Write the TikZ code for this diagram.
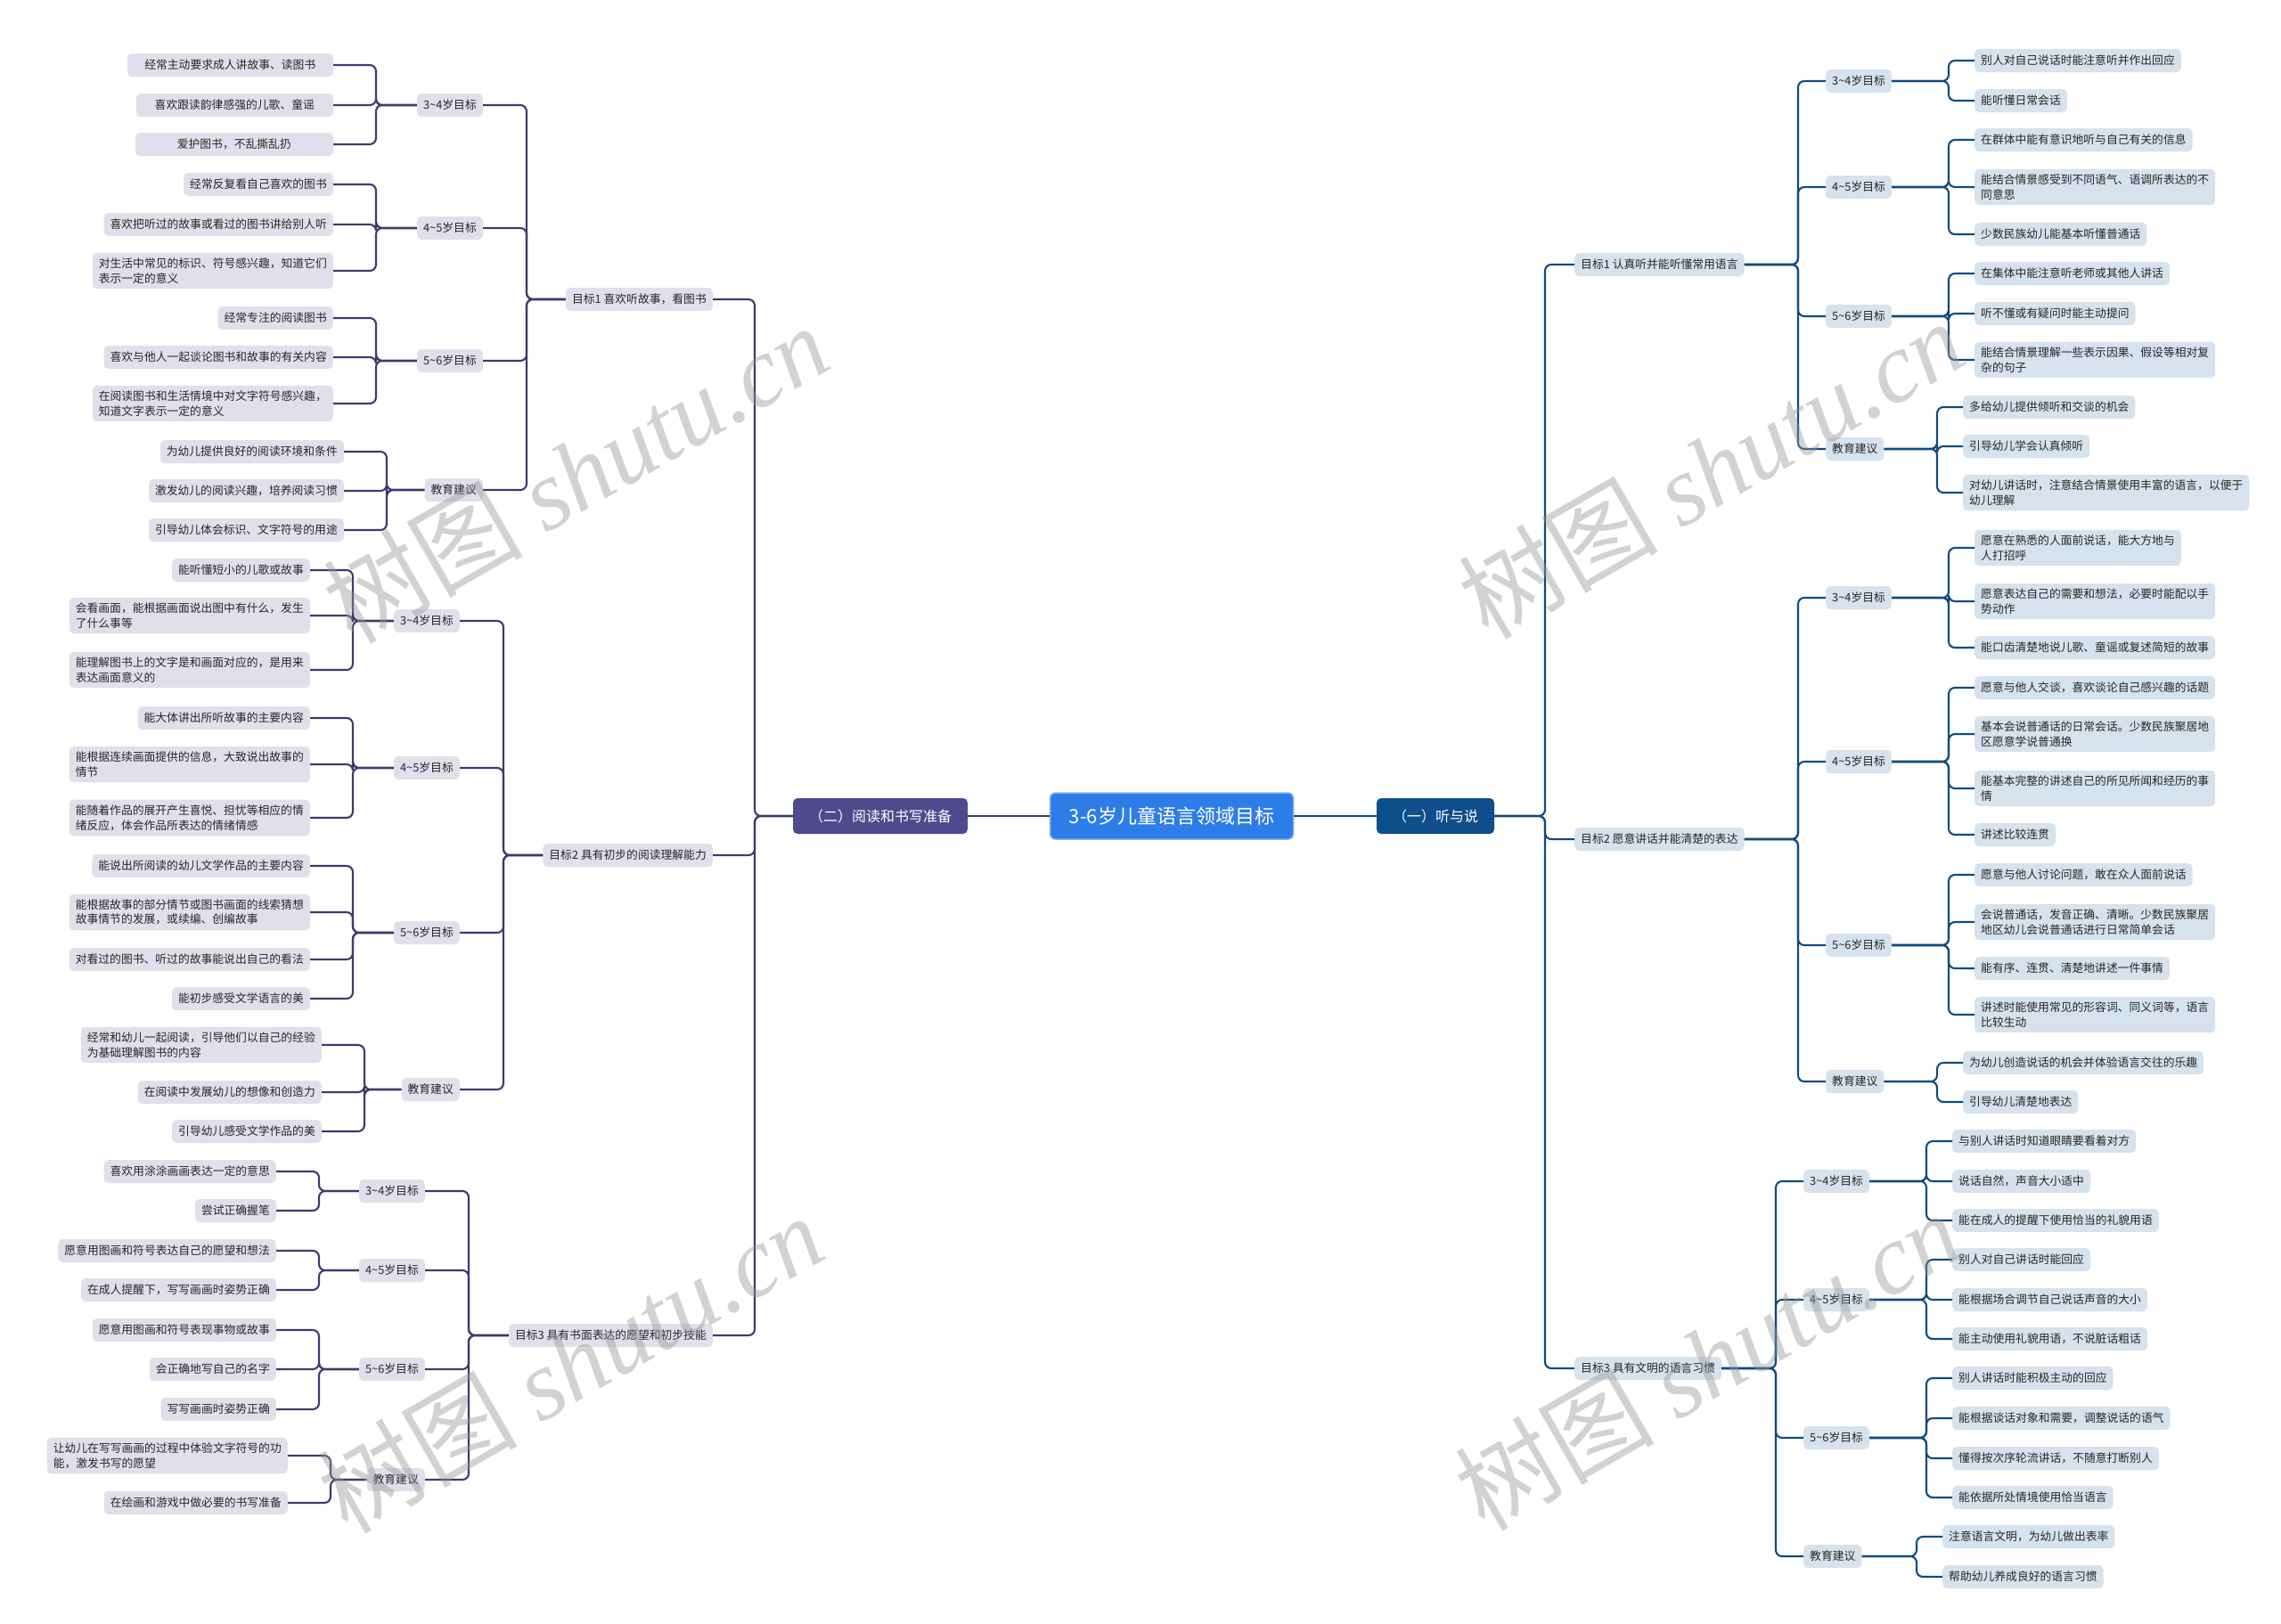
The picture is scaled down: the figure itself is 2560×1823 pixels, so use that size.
\documentclass[tikz,border=0pt]{standalone}
\usepackage{fontspec}
\setmainfont{Noto Sans CJK SC}
\newfontfamily\wmserif{Liberation Serif}
\usepackage{xcolor}
\usepackage{tikz}
\definecolor{rootblue}{RGB}{45,125,232}
\definecolor{readpurple}{RGB}{79,74,142}
\definecolor{readline}{RGB}{62,58,112}
\definecolor{readfill}{RGB}{224,224,237}
\definecolor{talkblue}{RGB}{14,78,138}
\definecolor{talkline}{RGB}{16,74,128}
\definecolor{talkfill}{RGB}{214,226,237}
\definecolor{inktext}{RGB}{38,38,38}
\definecolor{wmgray}{RGB}{150,150,150}
\newcommand{\agetil}{\textasciitilde}

\begin{document}
\begin{tikzpicture}[x=1pt, y=-1pt,
          box/.style={rounded corners=5pt, inner xsep=7pt, inner ysep=6pt,
                      minimum height=26pt, text=inktext,
                      font=\fontsize{12.8}{16.5}\selectfont},
          rootnode/.style={box, fill=rootblue, draw=rootblue!60!white, line width=1.5pt,
                           text=white, minimum width=273pt, minimum height=52pt,
                           rounded corners=6pt, font=\fontsize{22}{26}\selectfont},
          lmainnode/.style={box, fill=readpurple, text=white, inner xsep=18pt,
                            minimum height=40pt, font=\fontsize{16}{19}\selectfont},
          rmainnode/.style={box, fill=talkblue, text=white, inner xsep=18pt,
                            minimum height=40pt, font=\fontsize{16}{19}\selectfont},
          lleafnode/.style={box, fill=readfill, anchor=east, align=left},
          rleafnode/.style={box, fill=talkfill, anchor=west, align=left},
          lline/.style={draw=readline, line width=2.1pt, rounded corners=7pt},
          rline/.style={draw=talkline, line width=2.1pt, rounded corners=7pt},
          wmark/.style={rotate=30, text=wmgray, text opacity=0.42,
                        font=\fontsize{112}{112}\selectfont}]
\fill[white] (0,0) rectangle (2560,1823);
\useasboundingbox (0,0) rectangle (2560,1823);

\node[rootnode] (root) at (1315,916) {3-6岁儿童语言领域目标};
\node[lmainnode] (lmain) at (988,916) {（二）阅读和书写准备};
\node[rmainnode] (rmain) at (1611,916) {（一）听与说};

% left: reading and writing
\node[lleafnode] (lg1) at (800,336) {目标1 喜欢听故事，看图书};
\node[lleafnode] (lg2) at (800,960) {目标2 具有初步的阅读理解能力};
\node[lleafnode] (lg3) at (800,1499) {目标3 具有书面表达的愿望和初步技能};

\node[lleafnode] (lg1a) at (542,118) {3\agetil4岁目标};
\node[lleafnode] (lg1b) at (542,256) {4\agetil5岁目标};
\node[lleafnode] (lg1c) at (542,405) {5\agetil6岁目标};
\node[lleafnode] (lg1d) at (542,550) {教育建议};
\node[lleafnode, minimum width=231pt] (lg1a1) at (374,73) {经常主动要求成人讲故事、读图书};
\node[lleafnode, minimum width=221pt] (lg1a2) at (374,118) {喜欢跟读韵律感强的儿歌、童谣};
\node[lleafnode, minimum width=222pt] (lg1a3) at (374,162) {爱护图书，不乱撕乱扔};
\node[lleafnode] (lg1b1) at (374,207) {经常反复看自己喜欢的图书};
\node[lleafnode] (lg1b2) at (374,252) {喜欢把听过的故事或看过的图书讲给别人听};
\node[lleafnode] (lg1b3) at (374,304) {对生活中常见的标识、符号感兴趣，知道它们\\表示一定的意义};
\node[lleafnode] (lg1c1) at (374,357) {经常专注的阅读图书};
\node[lleafnode] (lg1c2) at (374,401) {喜欢与他人一起谈论图书和故事的有关内容};
\node[lleafnode] (lg1c3) at (374,453) {在阅读图书和生活情境中对文字符号感兴趣，\\知道文字表示一定的意义};
\node[lleafnode] (lg1d1) at (386,507) {为幼儿提供良好的阅读环境和条件};
\node[lleafnode] (lg1d2) at (386,551) {激发幼儿的阅读兴趣，培养阅读习惯};
\node[lleafnode] (lg1d3) at (386,595) {引导幼儿体会标识、文字符号的用途};

\node[lleafnode] (lg2a) at (516,697) {3\agetil4岁目标};
\node[lleafnode] (lg2b) at (516,862) {4\agetil5岁目标};
\node[lleafnode] (lg2c) at (516,1047) {5\agetil6岁目标};
\node[lleafnode] (lg2d) at (516,1223) {教育建议};
\node[lleafnode] (lg2a1) at (348,640) {能听懂短小的儿歌或故事};
\node[lleafnode] (lg2a2) at (348,691) {会看画面，能根据画面说出图中有什么，发生\\了什么事等};
\node[lleafnode] (lg2a3) at (348,752) {能理解图书上的文字是和画面对应的，是用来\\表达画面意义的};
\node[lleafnode] (lg2b1) at (348,806) {能大体讲出所听故事的主要内容};
\node[lleafnode] (lg2b2) at (348,858) {能根据连续画面提供的信息，大致说出故事的\\情节};
\node[lleafnode] (lg2b3) at (348,918) {能随着作品的展开产生喜悦、担忧等相应的情\\绪反应，体会作品所表达的情绪情感};
\node[lleafnode] (lg2c1) at (348,972) {能说出所阅读的幼儿文学作品的主要内容};
\node[lleafnode] (lg2c2) at (348,1024) {能根据故事的部分情节或图书画面的线索猜想\\故事情节的发展，或续编、创编故事};
\node[lleafnode] (lg2c3) at (348,1077) {对看过的图书、听过的故事能说出自己的看法};
\node[lleafnode] (lg2c4) at (348,1121) {能初步感受文学语言的美};
\node[lleafnode] (lg2d1) at (361,1173) {经常和幼儿一起阅读，引导他们以自己的经验\\为基础理解图书的内容};
\node[lleafnode] (lg2d2) at (361,1226) {在阅读中发展幼儿的想像和创造力};
\node[lleafnode] (lg2d3) at (361,1270) {引导幼儿感受文学作品的美};

\node[lleafnode] (lg3a) at (477,1337) {3\agetil4岁目标};
\node[lleafnode] (lg3b) at (477,1426) {4\agetil5岁目标};
\node[lleafnode] (lg3c) at (477,1537) {5\agetil6岁目标};
\node[lleafnode] (lg3d) at (477,1661) {教育建议};
\node[lleafnode] (lg3a1) at (310,1315) {喜欢用涂涂画画表达一定的意思};
\node[lleafnode] (lg3a2) at (310,1359) {尝试正确握笔};
\node[lleafnode] (lg3b1) at (310,1404) {愿意用图画和符号表达自己的愿望和想法};
\node[lleafnode] (lg3b2) at (310,1448) {在成人提醒下，写写画画时姿势正确};
\node[lleafnode] (lg3c1) at (310,1493) {愿意用图画和符号表现事物或故事};
\node[lleafnode] (lg3c2) at (310,1537) {会正确地写自己的名字};
\node[lleafnode] (lg3c3) at (310,1582) {写写画画时姿势正确};
\node[lleafnode] (lg3d1) at (323,1634) {让幼儿在写写画画的过程中体验文字符号的功\\能，激发书写的愿望};
\node[lleafnode] (lg3d2) at (323,1687) {在绘画和游戏中做必要的书写准备};

% right: listening and speaking
\node[rleafnode] (rg1) at (1767,297) {目标1 认真听并能听懂常用语言};
\node[rleafnode] (rg2) at (1767,942) {目标2 愿意讲话并能清楚的表达};
\node[rleafnode] (rg3) at (1767,1536) {目标3 具有文明的语言习惯};

\node[rleafnode] (rg1a) at (2049,91) {3\agetil4岁目标};
\node[rleafnode] (rg1b) at (2049,210) {4\agetil5岁目标};
\node[rleafnode] (rg1c) at (2049,355) {5\agetil6岁目标};
\node[rleafnode] (rg1d) at (2049,504) {教育建议};
\node[rleafnode] (rg1a1) at (2216,68) {别人对自己说话时能注意听并作出回应};
\node[rleafnode] (rg1a2) at (2216,113) {能听懂日常会话};
\node[rleafnode] (rg1b1) at (2216,157) {在群体中能有意识地听与自己有关的信息};
\node[rleafnode] (rg1b2) at (2216,210) {能结合情景感受到不同语气、语调所表达的不\\同意思};
\node[rleafnode] (rg1b3) at (2216,263) {少数民族幼儿能基本听懂普通话};
\node[rleafnode] (rg1c1) at (2216,307) {在集体中能注意听老师或其他人讲话};
\node[rleafnode] (rg1c2) at (2216,352) {听不懂或有疑问时能主动提问};
\node[rleafnode] (rg1c3) at (2216,404) {能结合情景理解一些表示因果、假设等相对复\\杂的句子};
\node[rleafnode] (rg1d1) at (2203,457) {多给幼儿提供倾听和交谈的机会};
\node[rleafnode] (rg1d2) at (2203,501) {引导幼儿学会认真倾听};
\node[rleafnode] (rg1d3) at (2203,553) {对幼儿讲话时，注意结合情景使用丰富的语言，以便于\\幼儿理解};

\node[rleafnode] (rg2a) at (2049,671) {3\agetil4岁目标};
\node[rleafnode] (rg2b) at (2049,855) {4\agetil5岁目标};
\node[rleafnode] (rg2c) at (2049,1061) {5\agetil6岁目标};
\node[rleafnode] (rg2d) at (2049,1214) {教育建议};
\node[rleafnode] (rg2a1) at (2216,615) {愿意在熟悉的人面前说话，能大方地与\\人打招呼};
\node[rleafnode] (rg2a2) at (2216,675) {愿意表达自己的需要和想法，必要时能配以手\\势动作};
\node[rleafnode] (rg2a3) at (2216,727) {能口齿清楚地说儿歌、童谣或复述简短的故事};
\node[rleafnode] (rg2b1) at (2216,772) {愿意与他人交谈，喜欢谈论自己感兴趣的话题};
\node[rleafnode] (rg2b2) at (2216,824) {基本会说普通话的日常会话。少数民族聚居地\\区愿意学说普通换};
\node[rleafnode] (rg2b3) at (2216,885) {能基本完整的讲述自己的所见所闻和经历的事\\情};
\node[rleafnode] (rg2b4) at (2216,937) {讲述比较连贯};
\node[rleafnode] (rg2c1) at (2216,982) {愿意与他人讨论问题，敢在众人面前说话};
\node[rleafnode] (rg2c2) at (2216,1035) {会说普通话，发音正确、清晰。少数民族聚居\\地区幼儿会说普通话进行日常简单会话};
\node[rleafnode] (rg2c3) at (2216,1087) {能有序、连贯、清楚地讲述一件事情};
\node[rleafnode] (rg2c4) at (2216,1139) {讲述时能使用常见的形容词、同义词等，语言\\比较生动};
\node[rleafnode] (rg2d1) at (2203,1193) {为幼儿创造说话的机会并体验语言交往的乐趣};
\node[rleafnode] (rg2d2) at (2203,1237) {引导幼儿清楚地表达};

\node[rleafnode] (rg3a) at (2024,1326) {3\agetil4岁目标};
\node[rleafnode] (rg3b) at (2024,1459) {4\agetil5岁目标};
\node[rleafnode] (rg3c) at (2024,1614) {5\agetil6岁目标};
\node[rleafnode] (rg3d) at (2024,1747) {教育建议};
\node[rleafnode] (rg3a1) at (2191,1281) {与别人讲话时知道眼睛要看着对方};
\node[rleafnode] (rg3a2) at (2191,1326) {说话自然，声音大小适中};
\node[rleafnode] (rg3a3) at (2191,1370) {能在成人的提醒下使用恰当的礼貌用语};
\node[rleafnode] (rg3b1) at (2191,1414) {别人对自己讲话时能回应};
\node[rleafnode] (rg3b2) at (2191,1459) {能根据场合调节自己说话声音的大小};
\node[rleafnode] (rg3b3) at (2191,1503) {能主动使用礼貌用语，不说脏话粗话};
\node[rleafnode] (rg3c1) at (2191,1547) {别人讲话时能积极主动的回应};
\node[rleafnode] (rg3c2) at (2191,1592) {能根据谈话对象和需要，调整说话的语气};
\node[rleafnode] (rg3c3) at (2191,1637) {懂得按次序轮流讲话，不随意打断别人};
\node[rleafnode] (rg3c4) at (2191,1681) {能依据所处情境使用恰当语言};
\node[rleafnode] (rg3d1) at (2180,1725) {注意语言文明，为幼儿做出表率};
\node[rleafnode] (rg3d2) at (2180,1770) {帮助幼儿养成良好的语言习惯};

% connectors
\draw[lline] (root.west) -- (lmain.east);
\draw[rline] (root.east) -- (rmain.west);
\foreach \g in {lg1,lg2,lg3} {
  \draw[lline] (lmain.west) -| ([xshift=47]\g.east) -- (\g.east);
  \foreach \a in {a,b,c,d}
    \draw[lline] (\g.west) -| ([xshift=49]\g\a.east) -- (\g\a.east);
}
\foreach \p/\n in {lg1a/3,lg1b/3,lg1c/3,lg1d/3,lg2a/3,lg2b/3,lg2c/4,lg2d/3,
                   lg3a/2,lg3b/2,lg3c/3,lg3d/2}
  \foreach \i in {1,...,\n}
    \draw[lline] (\p.west) -| ([xshift=48]\p\i.east) -- (\p\i.east);
\foreach \g in {rg1,rg2,rg3} {
  \draw[rline] (rmain.east) -| ([xshift=-33]\g.west) -- (\g.west);
  \foreach \a in {a,b,c,d}
    \draw[rline] (\g.east) -| ([xshift=-31]\g\a.west) -- (\g\a.west);
}
\foreach \p/\n in {rg1a/2,rg1b/3,rg1c/3,rg1d/3,rg2a/3,rg2b/4,rg2c/4,rg2d/2,
                   rg3a/3,rg3b/3,rg3c/4,rg3d/2}
  \foreach \i in {1,...,\n}
    \draw[rline] (\p.east) -| ([xshift=-29]\p\i.west) -- (\p\i.west);

% watermarks
\node[wmark] (wm1) at (646,531) {树图 {\wmserif\itshape shutu.cn}};
\node[wmark] (wm2) at (640,1530) {树图 {\wmserif\itshape shutu.cn}};
\node[wmark] (wm3) at (1920,526) {树图 {\wmserif\itshape shutu.cn}};
\node[wmark] (wm4) at (1916,1527) {树图 {\wmserif\itshape shutu.cn}};
\end{tikzpicture}
\end{document}
